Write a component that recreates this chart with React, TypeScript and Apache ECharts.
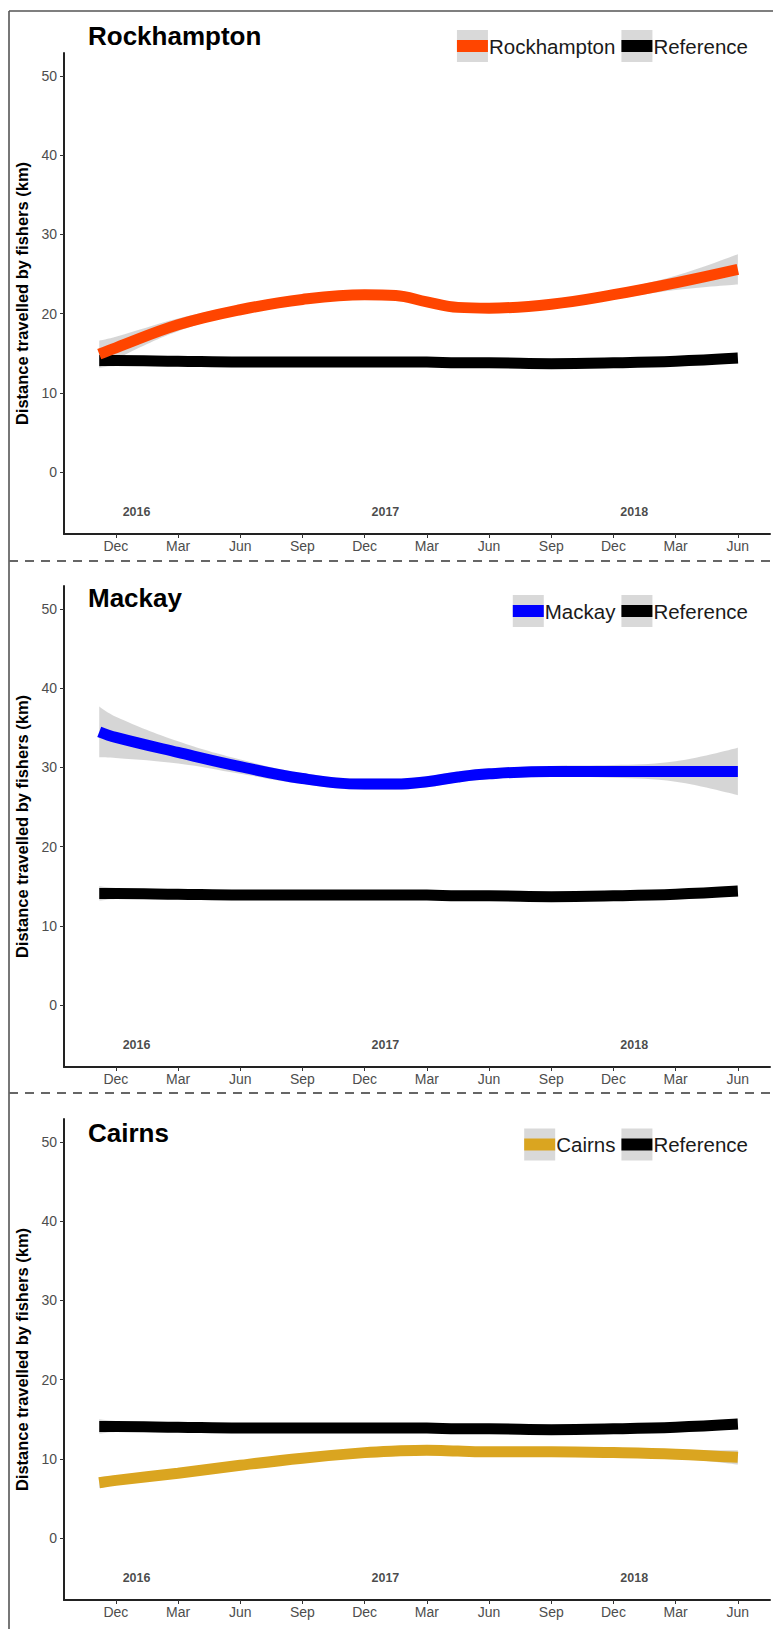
import React, { useEffect, useRef } from "react";
import * as echarts from "echarts";

const FONT = "'Liberation Sans', Arial, Helvetica, sans-serif";

// x positions in months after December 2015
const months = [-0.8, 0, 3, 6, 9, 12, 13.5, 15, 16.5, 18, 21, 24, 27, 30];

// smoothed fits (km) and half-widths of their confidence bands
const rockhamptonFit = [14.9, 15.7, 18.6, 20.5, 21.8, 22.4, 22.3, 21.5, 20.8, 20.7, 21.2, 22.4, 23.9, 25.6];
const rockhamptonSe = [1.7, 1.4, 0.8, 0.6, 0.6, 0.6, 0.6, 0.6, 0.6, 0.6, 0.6, 0.6, 0.9, 1.9];

const mackayFit = [34.5, 33.8, 31.9, 30.1, 28.6, 27.9, 27.9, 28.2, 28.8, 29.2, 29.5, 29.5, 29.5, 29.5];
const mackaySe = [3.2, 2.6, 1.4, 0.9, 0.7, 0.7, 0.7, 0.7, 0.7, 0.7, 0.7, 0.8, 1.3, 3.0];

const cairnsFit = [7.0, 7.3, 8.2, 9.2, 10.1, 10.8, 11.0, 11.1, 11.0, 10.9, 10.9, 10.8, 10.6, 10.2];
const cairnsSe = [0.7, 0.6, 0.5, 0.4, 0.4, 0.4, 0.4, 0.4, 0.4, 0.4, 0.4, 0.4, 0.5, 0.9];

const referenceFit = [14.1, 14.1, 14.0, 13.9, 13.9, 13.9, 13.9, 13.9, 13.8, 13.8, 13.7, 13.8, 14.0, 14.4];
const referenceSe = [0.9, 0.7, 0.4, 0.3, 0.3, 0.3, 0.3, 0.3, 0.3, 0.3, 0.3, 0.3, 0.4, 0.7];

// axis ticks
const xTickMonths = [0, 3, 6, 9, 12, 15, 18, 21, 24, 27, 30];
const xTickLabels = ["Dec", "Mar", "Jun", "Sep", "Dec", "Mar", "Jun", "Sep", "Dec", "Mar", "Jun"];
const yTicks = [0, 10, 20, 30, 40, 50];

// year annotations placed inside each panel
const yearMonths = [1, 13, 25];
const yearValue = -5;
const yearLabels = ["2016", "2017", "2018"];

const panels = [
  { name: "Rockhampton", color: "#FF4500", fit: rockhamptonFit, se: rockhamptonSe },
  { name: "Mackay", color: "#0000FF", fit: mackayFit, se: mackaySe },
  { name: "Cairns", color: "#DAA520", fit: cairnsFit, se: cairnsSe },
];

// layout (px)
const PANEL_STEP = 533;
const GRID_LEFT = 64;
const GRID_TOP = 53;
const GRID_W = 706;
const GRID_H = 481;
const TITLE_Y = [36, 598, 1133];
const LEGEND_Y = [46, 611, 1144.5];
const LEGEND_RIGHT = 748;
const LEGEND_FONT = 20.5;
const KEY_W = 31;
const KEY_H = 32;
const LINE_W = 11;

function measure(text: string, size: number, weight = "normal") {
  const ctx = document.createElement("canvas").getContext("2d");
  if (!ctx) return text.length * size * 0.55;
  ctx.font = `${weight} ${size}px ${FONT}`;
  return ctx.measureText(text).width;
}

function lineSeries(idx: number, color: string, values: number[], se: number[], key: string) {
  // band rows are [value, month] so that the stack runs along the y dimension
  const lower = months.map((m, i) => [values[i] - se[i], m]);
  const width = months.map((m, i) => [2 * se[i], m]);
  const fit = months.map((m, i) => [m, values[i]]);
  return [
    {
      type: "line",
      xAxisIndex: idx,
      yAxisIndex: idx,
      stack: key,
      encode: { x: 1, y: 0 },
      data: lower,
      smooth: 0.4,
      symbol: "none",
      lineStyle: { opacity: 0 },
      silent: true,
    },
    {
      type: "line",
      xAxisIndex: idx,
      yAxisIndex: idx,
      stack: key,
      encode: { x: 1, y: 0 },
      data: width,
      smooth: 0.4,
      symbol: "none",
      lineStyle: { opacity: 0 },
      areaStyle: { color: "#999999", opacity: 0.4 },
      silent: true,
    },
    {
      type: "line",
      xAxisIndex: idx,
      yAxisIndex: idx,
      data: fit,
      smooth: 0.4,
      symbol: "none",
      lineStyle: { color, width: LINE_W, cap: "butt" },
      silent: true,
    },
  ];
}

function legendItems(p: number, label: string, color: string) {
  const cy = LEGEND_Y[p];
  const items: any[] = [];
  const entries = [
    { text: label, color },
    { text: "Reference", color: "#000000" },
  ];
  let right = LEGEND_RIGHT;
  for (let i = entries.length - 1; i >= 0; i--) {
    const e = entries[i];
    const w = measure(e.text, LEGEND_FONT);
    const tx = right - w;
    const kx = tx - KEY_W - 1;
    items.push({
      type: "rect",
      shape: { x: kx, y: cy - KEY_H / 2, width: KEY_W, height: KEY_H },
      style: { fill: "#D9D9D9" },
      silent: true,
    });
    items.push({
      type: "rect",
      shape: { x: kx, y: cy - 6, width: KEY_W, height: 12 },
      style: { fill: e.color },
      silent: true,
    });
    items.push({
      type: "text",
      x: tx,
      y: cy,
      style: {
        text: e.text,
        fill: "#1A1A1A",
        font: `${LEGEND_FONT}px ${FONT}`,
        textAlign: "left",
        textVerticalAlign: "middle",
      },
      silent: true,
    });
    right = kx - 6;
  }
  return items;
}

export default function App() {
  const ref = useRef<HTMLDivElement>(null);

  useEffect(() => {
    if (!ref.current) return;
    const chart = echarts.init(ref.current, undefined, { renderer: "svg" });

    const grid: any[] = [];
    const xAxis: any[] = [];
    const yAxis: any[] = [];
    const series: any[] = [];
    const graphic: any[] = [];

    panels.forEach((p, i) => {
      const off = i * PANEL_STEP;
      grid.push({ left: GRID_LEFT, top: GRID_TOP + off, width: GRID_W, height: GRID_H, containLabel: false });
      xAxis.push({
        type: "value",
        gridIndex: i,
        min: -2.5,
        max: 31.55,
        splitLine: { show: false },
        axisLine: { show: true, onZero: false, lineStyle: { color: "#222222", width: 2 } },
        axisTick: { show: true, length: 4, customValues: xTickMonths, lineStyle: { color: "#333333", width: 1 } },
        axisLabel: {
          show: true,
          customValues: xTickMonths,
          margin: 5,
          fontSize: 14,
          fontFamily: FONT,
          color: "#4D4D4D",
          formatter: (v: number) => {
            const k = xTickMonths.indexOf(Math.round(v));
            return k >= 0 ? xTickLabels[k] : "";
          },
        },
      });
      yAxis.push({
        type: "value",
        gridIndex: i,
        min: -7.8,
        max: 52.9,
        splitLine: { show: false },
        axisLine: { show: true, onZero: false, lineStyle: { color: "#222222", width: 2 } },
        axisTick: { show: true, length: 4, customValues: yTicks, lineStyle: { color: "#333333", width: 1 } },
        axisLabel: {
          show: true,
          customValues: yTicks,
          margin: 7,
          fontSize: 14,
          fontFamily: FONT,
          color: "#4D4D4D",
        },
        name: "Distance travelled by fishers (km)",
        nameLocation: "middle",
        nameGap: 27,
        nameRotate: 90,
        nameTextStyle: { fontSize: 16.5, fontWeight: "bold", fontFamily: FONT, color: "#000000" },
      });

      series.push(...lineSeries(i, "#000000", referenceFit, referenceSe, "ref" + i));
      series.push(...lineSeries(i, p.color, p.fit, p.se, "fit" + i));
      series.push({
        type: "scatter",
        xAxisIndex: i,
        yAxisIndex: i,
        symbolSize: 1,
        itemStyle: { color: "transparent" },
        silent: true,
        data: yearMonths.map((m, k) => ({ value: [m, yearValue], name: yearLabels[k] })),
        label: {
          show: true,
          position: "inside",
          formatter: (d: any) => d.name,
          fontSize: 12.5,
          fontWeight: "bold",
          fontFamily: FONT,
          color: "#1A1A1A",
        },
      });

      graphic.push({
        type: "text",
        x: 88,
        y: TITLE_Y[i],
        style: {
          text: p.name,
          fill: "#000000",
          font: `bold 26px ${FONT}`,
          textAlign: "left",
          textVerticalAlign: "middle",
        },
        silent: true,
      });
      graphic.push(...legendItems(i, p.name, p.color));
    });

    // outer frame and panel separators
    graphic.push(
      { type: "line", shape: { x1: 9, y1: 11, x2: 773, y2: 11 }, style: { stroke: "#555555", lineWidth: 1.6 }, silent: true },
      { type: "line", shape: { x1: 9, y1: 11, x2: 9, y2: 1629 }, style: { stroke: "#555555", lineWidth: 1.6 }, silent: true },
      { type: "line", shape: { x1: 9, y1: 561, x2: 773, y2: 561 }, style: { stroke: "#666666", lineWidth: 2, lineDash: [9, 7] }, silent: true },
      { type: "line", shape: { x1: 9, y1: 1093, x2: 773, y2: 1093 }, style: { stroke: "#666666", lineWidth: 2, lineDash: [9, 7] }, silent: true }
    );

    chart.setOption({
      animation: false,
      backgroundColor: "#FFFFFF",
      textStyle: { fontFamily: FONT },
      grid,
      xAxis,
      yAxis,
      series,
      graphic,
    });

    return () => chart.dispose();
  }, []);

  return (
    <div
      ref={ref}
      style={{ position: "absolute", left: 0, top: 0, width: 773, height: 1629, background: "#FFFFFF" }}
    />
  );
}
